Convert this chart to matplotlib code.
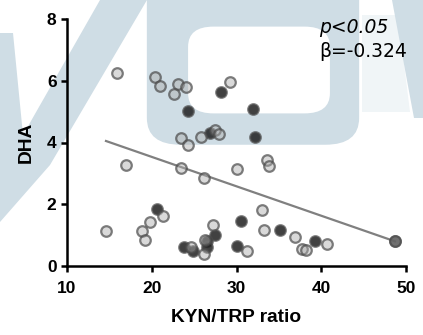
import numpy as np
import matplotlib
matplotlib.use('Agg')
import matplotlib.pyplot as plt
from matplotlib.patches import Polygon, FancyBboxPatch

# KYN/TRP ratio vs DHA, two groups (light / dark markers)
light_x = [15.9, 20.4, 21.0, 23.1, 22.6, 24.1, 29.2, 23.4, 24.25, 25.8, 27.5, 27.9,
           23.5, 17.0, 26.2, 30.1, 33.6, 33.8, 32.95, 33.25, 36.85, 37.7, 38.2, 40.7,
           27.2, 31.2, 26.2, 21.35, 19.75, 18.9, 19.2, 14.6, 24.6, 26.3, 48.7]
light_y = [6.24, 6.13, 5.83, 5.89, 5.56, 5.79, 5.95, 4.13, 3.92, 4.19, 4.40, 4.29,
           3.19, 3.28, 2.84, 3.14, 3.42, 3.25, 1.81, 1.16, 0.95, 0.54, 0.52, 0.70,
           1.33, 0.47, 0.38, 1.63, 1.41, 1.14, 0.83, 1.12, 0.63, 0.85, 0.81]
dark_x = [24.25, 28.2, 32.0, 32.2, 26.9, 20.6, 30.55, 35.15, 39.3, 27.45, 26.5, 26.5,
          23.85, 24.85, 30.05, 48.7]
dark_y = [5.01, 5.63, 5.08, 4.19, 4.30, 1.86, 1.47, 1.17, 0.81, 1.02, 0.80, 0.63,
          0.63, 0.50, 0.65, 0.81]

# fitted trend line as drawn in the figure
fit_slope = -0.0953
fit_intercept = 5.44

W, H = 423, 335
fig = plt.figure(figsize=(W / 100, H / 100), dpi=100)


def px(x, y):
    return (x / W, 1 - y / H)


# light blue watermark in the background
wm = '#cfdde5'
fig.add_artist(Polygon([px(*p) for p in [(0, 33), (13, 33), (23, 135), (100, 0), (147, 0),
                                          (50, 165), (0, 222)]],
                       closed=True, transform=fig.transFigure, fc=wm, ec='none', zorder=0))
fig.add_artist(FancyBboxPatch(px(168, 128), 170 / W, 150 / H, boxstyle='round,pad=0.05,rounding_size=0.08',
                              transform=fig.transFigure, fc=wm, ec='none', zorder=0))
fig.add_artist(FancyBboxPatch(px(205, 100), 108 / W, 60 / H, boxstyle='round,pad=0.04,rounding_size=0.06',
                              transform=fig.transFigure, fc='white', ec='none', zorder=0))
fig.add_artist(Polygon([px(*p) for p in [(362, 15), (398, 15), (410, 112), (362, 112)]],
                       closed=True, transform=fig.transFigure, fc='#f0f5f7', ec='none', zorder=0))
fig.add_artist(Polygon([px(*p) for p in [(392, 0), (423, 0), (423, 118), (414, 118)]],
                       closed=True, transform=fig.transFigure, fc=wm, ec='none', zorder=0))

ax = fig.add_axes([67 / W, 1 - 266 / H, (406 - 67) / W, (266 - 19) / H])
ax.patch.set_visible(False)

ax.scatter(dark_x, dark_y, s=58, facecolor=(0.12, 0.12, 0.12, 0.85),
           edgecolor=(0.29, 0.29, 0.29, 0.7), linewidth=1.6, zorder=3)
ax.scatter(light_x, light_y, s=58, facecolor=(0.67, 0.67, 0.67, 0.45),
           edgecolor=(0.29, 0.29, 0.29, 0.7), linewidth=1.6, zorder=3)

all_x = np.array(light_x + dark_x)
xs = np.array([all_x.min(), all_x.max()])
ax.plot(xs, fit_intercept + fit_slope * xs, color='#808080', lw=1.6, zorder=2)

ax.set_xlim(10, 50)
ax.set_ylim(0, 8)
ax.set_xticks([10, 20, 30, 40, 50])
ax.set_yticks([0, 2, 4, 6, 8])
for s in ['top', 'right']:
    ax.spines[s].set_visible(False)
for s in ['left', 'bottom']:
    ax.spines[s].set_linewidth(1.8)
ax.tick_params(direction='out', length=4.5, width=1.8, pad=3)
ax.tick_params(axis='x', pad=6)
for lab in ax.get_xticklabels() + ax.get_yticklabels():
    lab.set_fontfamily('Liberation Sans')
    lab.set_fontweight('bold')
    lab.set_fontsize(12.5)

ax.set_xlabel('KYN/TRP ratio', fontfamily='Liberation Sans', fontweight='bold', fontsize=13.8, labelpad=10)
ax.set_ylabel('DHA', fontfamily='Liberation Sans', fontweight='bold', fontsize=13.8, labelpad=9)

fig.text(*px(319, 33), 'p<0.05', fontfamily='DejaVu Sans', fontstyle='italic', fontsize=13.5)
fig.text(*px(319, 57), 'β=-0.324', fontfamily='DejaVu Sans', fontsize=13.5)

fig.savefig('out.png', dpi=100)
